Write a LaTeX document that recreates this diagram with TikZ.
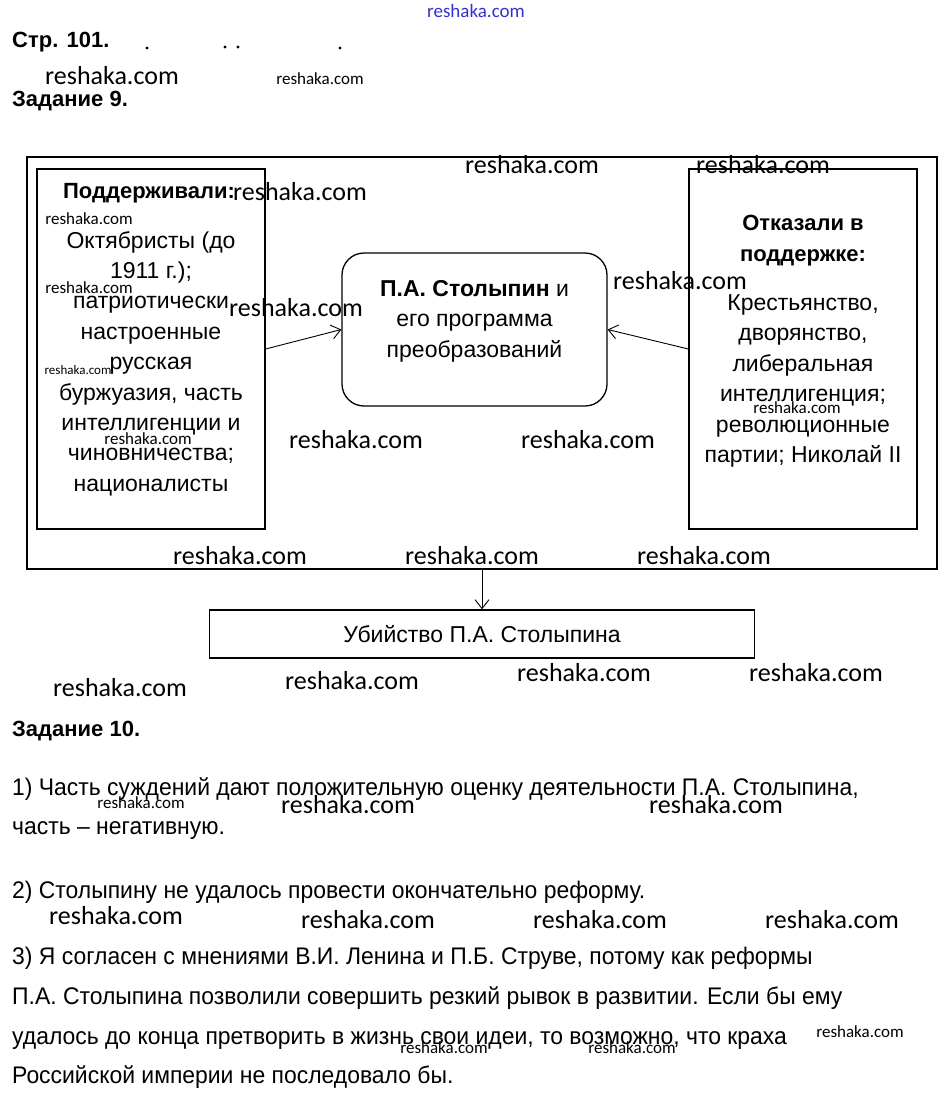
\documentclass[tikz,border=0pt]{standalone}
\usepackage{fontspec}
\setmainfont{Liberation Sans}
\newfontfamily\wmfont{Carlito}
\usetikzlibrary{arrows.meta}
\newcommand{\narrowtxt}[1]{\scalebox{0.955}[1]{#1}}

\begin{document}
\begin{tikzpicture}[x=1pt,y=-1pt,
  txt/.style={font=\fontsize{23}{30.4}\selectfont,align=center,inner sep=0pt},
  bx/.style={draw,line width=1.3pt,inner sep=0pt},
  arr/.style={-{Straight Barb[length=9pt,width=14pt]},line width=0.9pt},
  wm/.style={font=\wmfont\fontsize{26}{26}\selectfont,inner sep=0pt},
  wms/.style={font=\wmfont\fontsize{17}{17}\selectfont,inner sep=0pt},
  ln/.style={font=\fontsize{24}{24}\selectfont,anchor=base west,inner sep=0pt}]
\useasboundingbox[fill=white] (0,0) rectangle (949,1101);

% page headings
\node[ln,font=\bfseries\fontsize{22}{22}\selectfont] (page) at (12,47) {Стр. 101.};
\node[ln,font=\bfseries\fontsize{22}{22}\selectfont] (task9) at (12,106) {Задание 9.};
\foreach \x/\y in {147/48,225/47,238/47,340/48}
  \fill (\x,\y) circle (1.6pt);

% the scheme
\node[bx,minimum width=910pt,minimum height=412pt] (frame) at (482,363) {};
\node[bx,minimum width=228pt,minimum height=360pt] (sup) at (151,349) {};
\node[bx,minimum width=228pt,minimum height=360pt] (ref) at (803,349) {};
\node[bx,rounded corners=22pt,minimum width=265pt,minimum height=153pt] (stol) at (474.5,329.5) {};
\node[bx,minimum width=545pt,minimum height=48pt] (kill) at (482,634) {};

\node[txt,font=\bfseries\fontsize{22}{30.4}\selectfont] (suphead) at (149,193) {Поддерживали:};
\node[txt] (suptext) at (151,363.5) {Октябристы (до\\1911 г.);\\патриотически\\настроенные\\русская\\буржуазия, часть\\интеллигенции и\\чиновничества;\\националисты};
\node[txt,font=\bfseries\fontsize{22}{30.4}\selectfont] (refhead) at (803,240.5) {Отказали в\\поддержке:};
\node[txt] (reftext) at (803,381) {Крестьянство,\\дворянство,\\либеральная\\интеллигенция;\\революционные\\партии; Николай II};
\node[txt] (stoltext) at (474.5,321) {\textbf{П.А. Столыпин} и\\его программа\\преобразований};
\node[txt] (killtext) at (kill.center) {Убийство П.А. Столыпина};

\draw[arr] (sup.east) -- (stol.west);
\draw[arr] (ref.west) -- (stol.east);
\draw[arr] (frame.south) -- (kill.north);

% task 10
\node[ln,font=\bfseries\fontsize{22}{22}\selectfont] (task10) at (12,736) {Задание 10.};
\node[ln] (a1) at (12,795) {\narrowtxt{1) Часть суждений дают положительную оценку деятельности П.А. Столыпина,}};
\node[ln] (a1b) at (12,834) {\narrowtxt{часть – негативную.}};
\node[ln] (a2) at (12,898) {\narrowtxt{2) Столыпину не удалось провести окончательно реформу.}};
\node[ln] (a3) at (12,964) {\narrowtxt{3) Я согласен с мнениями В.И. Ленина и П.Б. Струве, потому как реформы}};
\node[ln] (a3b) at (12,1004) {\narrowtxt{П.А. Столыпина позволили совершить резкий рывок в развитии. Если бы ему}};
\node[ln] (a3c) at (12,1044) {\narrowtxt{удалось до конца претворить в жизнь свои идеи, то возможно, что краха}};
\node[ln] (a3d) at (12,1083) {\narrowtxt{Российской империи не последовало бы.}};

% watermarks
\node[wms,font=\wmfont\fontsize{19}{19}\selectfont,text={rgb,255:red,50;green,50;blue,210}] (wm0) at (476,11) {reshaka.com};
\foreach \x/\y [count=\i] in {112/76,532/165,763/165,300/192,296/308,680/281,356/440,588/440,
  240/556,472/556,704/556,120/688,352/681,584/673,816/673,348/805,716/805,
  116/916,368/920,600/920,832/920}
  \node[wm] (wm\i) at (\x,\y) {reshaka.com};
\foreach \x/\y [count=\i] in {320/79,89/219,89/288,148/439,797/408,141/803,860/1032,444/1048,632/1048}
  \node[wms] (wms\i) at (\x,\y) {reshaka.com};
\node[wms,font=\wmfont\fontsize{13}{13}\selectfont] (wmt) at (78,370) {reshaka.com};
\end{tikzpicture}
\end{document}
